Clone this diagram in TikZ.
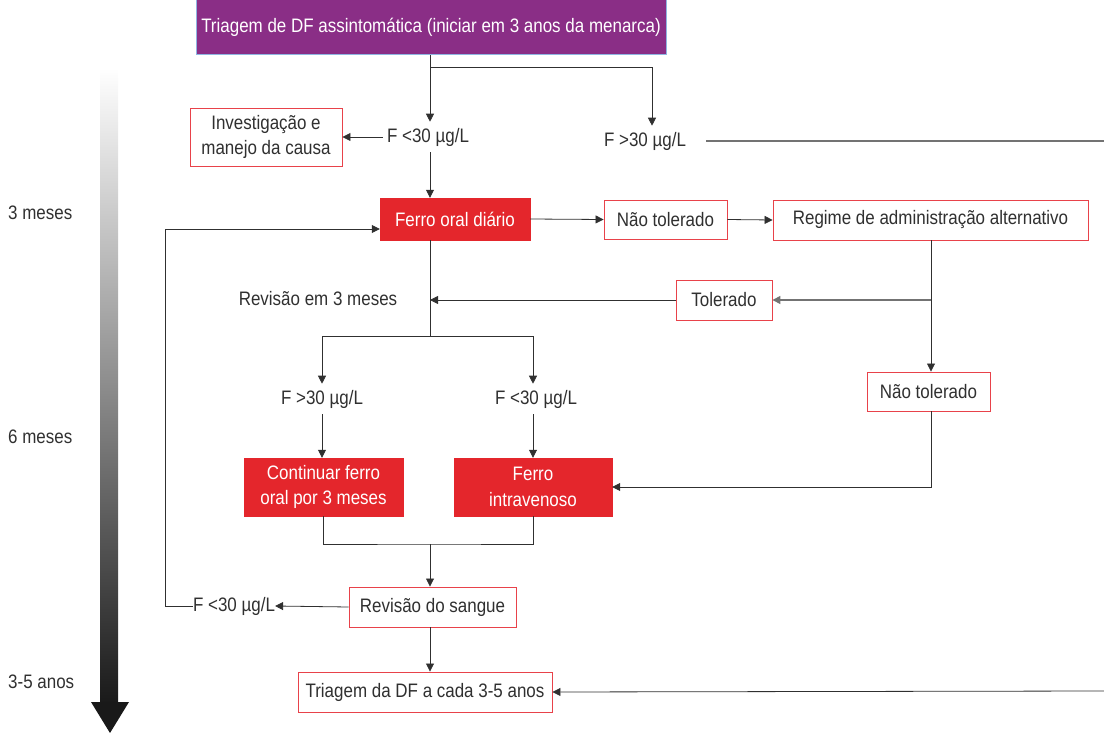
\documentclass[tikz,border=0pt]{standalone}
\usepackage{fontspec}
\setmainfont{Liberation Sans}[FakeStretch=0.87]
\usetikzlibrary{arrows.meta}
\definecolor{ink}{HTML}{303030}
\definecolor{boxred}{HTML}{E4262C}
\definecolor{edgered}{HTML}{E8424A}
\definecolor{plum}{HTML}{8A2E86}
\definecolor{skyedge}{HTML}{8FB6E2}
\tikzset{
  every node/.style={font=\fontsize{19.5}{25.5}\selectfont, text=ink, align=center, inner sep=0pt},
  outline/.style={draw=edgered, line width=0.9pt, fill=white},
  solid red/.style={draw=boxred, fill=boxred, text=white},
  lbl/.style={},
  link/.style={draw=ink, line width=0.8pt},
  arr/.style={link, -{Triangle[length=8pt,width=8pt]}},
  greylink/.style={draw=black!55, line width=1.4pt},
  greyarr/.style={greylink, -{Triangle[length=8pt,width=8pt]}, },
}
\begin{document}
\begin{tikzpicture}[x=1pt,y=-1pt]
\useasboundingbox (0,0) rectangle (1104,733);

% time axis
\shade[top color=white, bottom color=black!90] (100,68) rectangle (118,703);
\fill[black!90] (91,702) -- (129,702) -- (110,733) -- cycle;
\node[anchor=west] (t3m) at (8,213) {3 meses};
\node[anchor=west] (t6m) at (8,437) {6 meses};
\node[anchor=west] (t35) at (8,682) {3-5 anos};

% boxes
\node[draw=skyedge, line width=1pt, fill=plum, text=white, minimum width=470pt, minimum height=55pt] (top) at (431,27.5) {Triagem de DF assintomática (iniciar em 3 anos da menarca)};
\node[outline, minimum width=152pt, minimum height=58pt] (inv) at (266,137) {Investigação e\\manejo da causa};
\node[solid red, minimum width=150pt, minimum height=42pt] (ferro) at (455,219) {Ferro oral diário};
\node[outline, minimum width=123pt, minimum height=39pt] (nt1) at (665.5,219.5) {Não tolerado};
\node[outline, minimum width=315pt, minimum height=40pt] (reg) at (930.5,220) {Regime de administração alternativo};
\node[outline, minimum width=96pt, minimum height=40pt] (tol) at (724,300) {Tolerado};
\node[outline, minimum width=123pt, minimum height=39pt] (nt2) at (928.5,391.5) {Não tolerado};
\node[solid red, minimum width=159pt, minimum height=58pt] (cont) at (323.5,487) {Continuar ferro\\oral por 3 meses};
\node[solid red, minimum width=158pt, minimum height=58pt] (iv) at (533,487) {Ferro\\intravenoso};
\node[outline, minimum width=167pt, minimum height=40pt] (rs) at (432.5,607) {Revisão do sangue};
\node[outline, minimum width=254pt, minimum height=40pt] (td) at (425,692) {Triagem da DF a cada 3-5 anos};

% text labels
\node[lbl] (f1) at (428,137) {F <30 µg/L};
\node[lbl] (f2) at (645,141) {F >30 µg/L};
\node[lbl] (rev) at (318,299) {Revisão em 3 meses};
\node[lbl] (f3) at (322,399) {F >30 µg/L};
\node[lbl] (f4) at (536,399) {F <30 µg/L};
\node[lbl] (f5) at (234,606) {F <30 µg/L};

% junction points
\coordinate (b1) at (430,67);
\coordinate (b2) at (652,67);
\coordinate (j1) at (931,300);
\coordinate (j2) at (430,300);
\coordinate (j3) at (430,336);
\coordinate (j4) at (430,544);
\coordinate (c2) at (165,229);
\coordinate (e1) at (1104,141);
\coordinate (e2) at (1104,691);

% connectors
\draw[arr, shorten >=6pt] (top.south -| b1) -- (b1 |- f1.north);
\draw[arr, shorten >=6pt] (b1) -- (b2) -- (b2 |- f2.north);
\draw[arr, shorten <=4pt] (f1.west) -- (inv.east);
\draw[arr, shorten <=6pt] (b1 |- f1.south) -- (b1 |- ferro.north);
\draw[greylink, shorten <=20pt] (f2.east) -- (e1);
\draw[arr] (ferro.east) -- (nt1.west);
\draw[arr] (nt1.east) -- (reg.west);
\draw[link] (reg.south -| j1) -- (j1);
\draw[arr] (j1) -- (nt2.north -| j1);
\draw[greyarr] (j1) -- (tol.east);
\draw[arr] (tol.west) -- (j2);
\draw[link] (ferro.south -| j3) -- (j3);
\draw[arr, shorten >=6pt] (j3) -| (f3.north);
\draw[arr, shorten >=6pt] (j3) -| (f4.north -| 533,0);
\draw[arr, shorten <=6pt] (f3.south) -- (cont.north -| f3.south);
\draw[arr, shorten <=6pt] (f4.south -| iv.north) -- (iv.north);
\draw[arr] (nt2.south -| j1) |- (iv.east);
\draw[link] (cont.south) |- (j4) -| (iv.south);
\draw[arr] (j4) -- (rs.north -| j4);
\draw[arr] (rs.west) -- (f5.east);
\draw[arr] (f5.west) -| (c2) -- (c2 -| ferro.west);
\draw[arr] (rs.south -| j4) -- (td.north -| j4);
\draw[arr] (e2) -- (td.east);
\end{tikzpicture}
\end{document}
